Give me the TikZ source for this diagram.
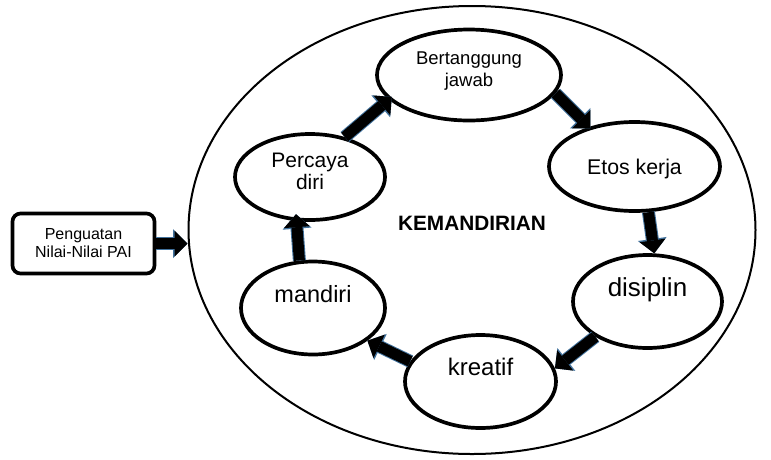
\documentclass[tikz,border=0pt]{standalone}
\usepackage{fontspec}
\setmainfont{Liberation Sans}
\usetikzlibrary{arrows.meta, shapes.geometric}
\definecolor{outline}{HTML}{41719C}

\begin{document}
\begin{tikzpicture}[
        x=1pt, y=-1pt,
        oval/.style={ellipse, draw=black, line width=3.7pt, inner sep=0pt, align=center},
        box/.style={rectangle, rounded corners=8pt, draw=black, line width=3.7pt, minimum width=142pt, minimum height=60pt, align=center, font=\fontsize{16}{18}\selectfont},
        arrow/.style={line width=11pt, draw=black, -{Triangle[length=13pt, width=26pt, line width=0pt]},
            preaction={draw=outline, line width=13pt, -{Triangle[length=14.5pt, width=29pt, line width=0pt]}}}
    ]
    \useasboundingbox (0,0) rectangle (771,459);

    % Nodes
    \node[ellipse, draw=black, line width=2pt, inner sep=0pt, minimum width=567pt, minimum height=448pt, font=\bfseries\fontsize{20.8}{22}\selectfont, text depth=13pt] (kemandirian) at (472,230) {KEMANDIRIAN};
    \node[box] (penguatan) at (83.5,243.5) {Penguatan\\Nilai-Nilai PAI};
    \node[oval, minimum width=184pt, minimum height=91pt, font=\fontsize{18.5}{22}\selectfont, text depth=11pt] (tanggung) at (469,75) {Bertanggung\\jawab};
    \node[oval, minimum width=171pt, minimum height=89pt, font=\fontsize{21.3}{22}\selectfont, text depth=0pt] (etos) at (634.5,166.5) {Etos kerja};
    \node[oval, minimum width=149pt, minimum height=93pt, font=\fontsize{26}{26}\selectfont, text depth=28pt] (disiplin) at (647.5,301.5) {disiplin};
    \node[oval, minimum width=151pt, minimum height=93pt, font=\fontsize{24}{24}\selectfont, text depth=29.5pt] (kreatif) at (480.5,381.5) {kreatif};
    \node[oval, minimum width=144pt, minimum height=93pt, font=\fontsize{23.5}{24}\selectfont, text depth=29pt] (mandiri) at (313,308) {mandiri};
    \node[oval, minimum width=150pt, minimum height=86pt, font=\fontsize{21}{22}\selectfont, text depth=11pt] (percaya) at (310,177) {Percaya\\diri};

    % Arrows
    \draw[arrow] (penguatan.east) -- (kemandirian.west |- penguatan.east);
    \draw[arrow, shorten >=-4pt] (percaya.49) -- (tanggung.197);
    \draw[arrow, shorten >=-2pt] (tanggung.-12) -- (etos.139);
    \draw[arrow] (etos.-73) -- (disiplin.82);
    \draw[arrow] (disiplin.214) -- (kreatif.10);
    \draw[arrow] (kreatif.164) -- (mandiri.-31);
    \draw[arrow, shorten >=-7pt] (mandiri.106) -- (percaya.253);

\end{tikzpicture}
\end{document}
